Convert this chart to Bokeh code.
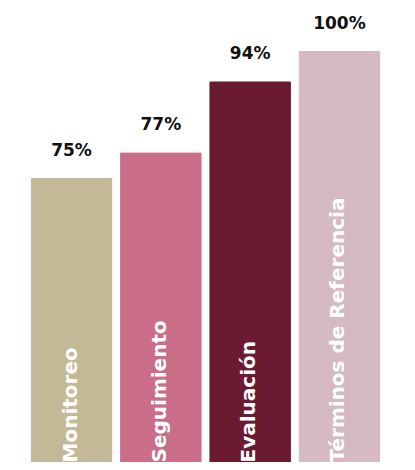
from bokeh.plotting import figure
from bokeh.models import ColumnDataSource
from bokeh.embed import file_html
from bokeh.resources import INLINE
from bokeh.core.properties import value
import math

categories = ["Monitoreo", "Seguimiento", "Evaluación", "Términos de Referencia"]
pct_labels = ["75%", "77%", "94%", "100%"]
bar_heights = [75, 80, 94, 100]
colors = ["#C3B997", "#C96D89", "#6A1B32", "#D5BAC2"]

xs = [1, 2, 3, 4]
src = ColumnDataSource(dict(x=xs, top=bar_heights, cat=categories, lab=pct_labels, color=colors))

y0 = 19.1
p = figure(width=399, height=462, output_backend="svg", toolbar_location=None,
           x_range=(0.205, 4.672), y_range=(y0, 110.04), min_border=0)
p.axis.visible = False
p.grid.visible = False
p.outline_line_color = None
p.background_fill_color = "white"
p.border_fill_color = "white"

p.vbar(x="x", top="top", bottom=0, width=0.9, color="color", source=src)

p.text(x="x", y="top", text="lab", source=src, text_align="center", text_baseline="bottom",
       y_offset=-19, text_font=value("DejaVu Sans"), text_font_style="bold",
       text_font_size="17px", text_color="#111111")

p.text(x="x", y=y0, text="cat", source=src, angle=math.pi / 2, text_align="left",
       text_baseline="middle", y_offset=0, x_offset=-2, text_font=value("DejaVu Sans"),
       text_font_style="bold", text_font_size="20px", text_color="white")

open("out.html", "w").write(file_html(p, INLINE))
